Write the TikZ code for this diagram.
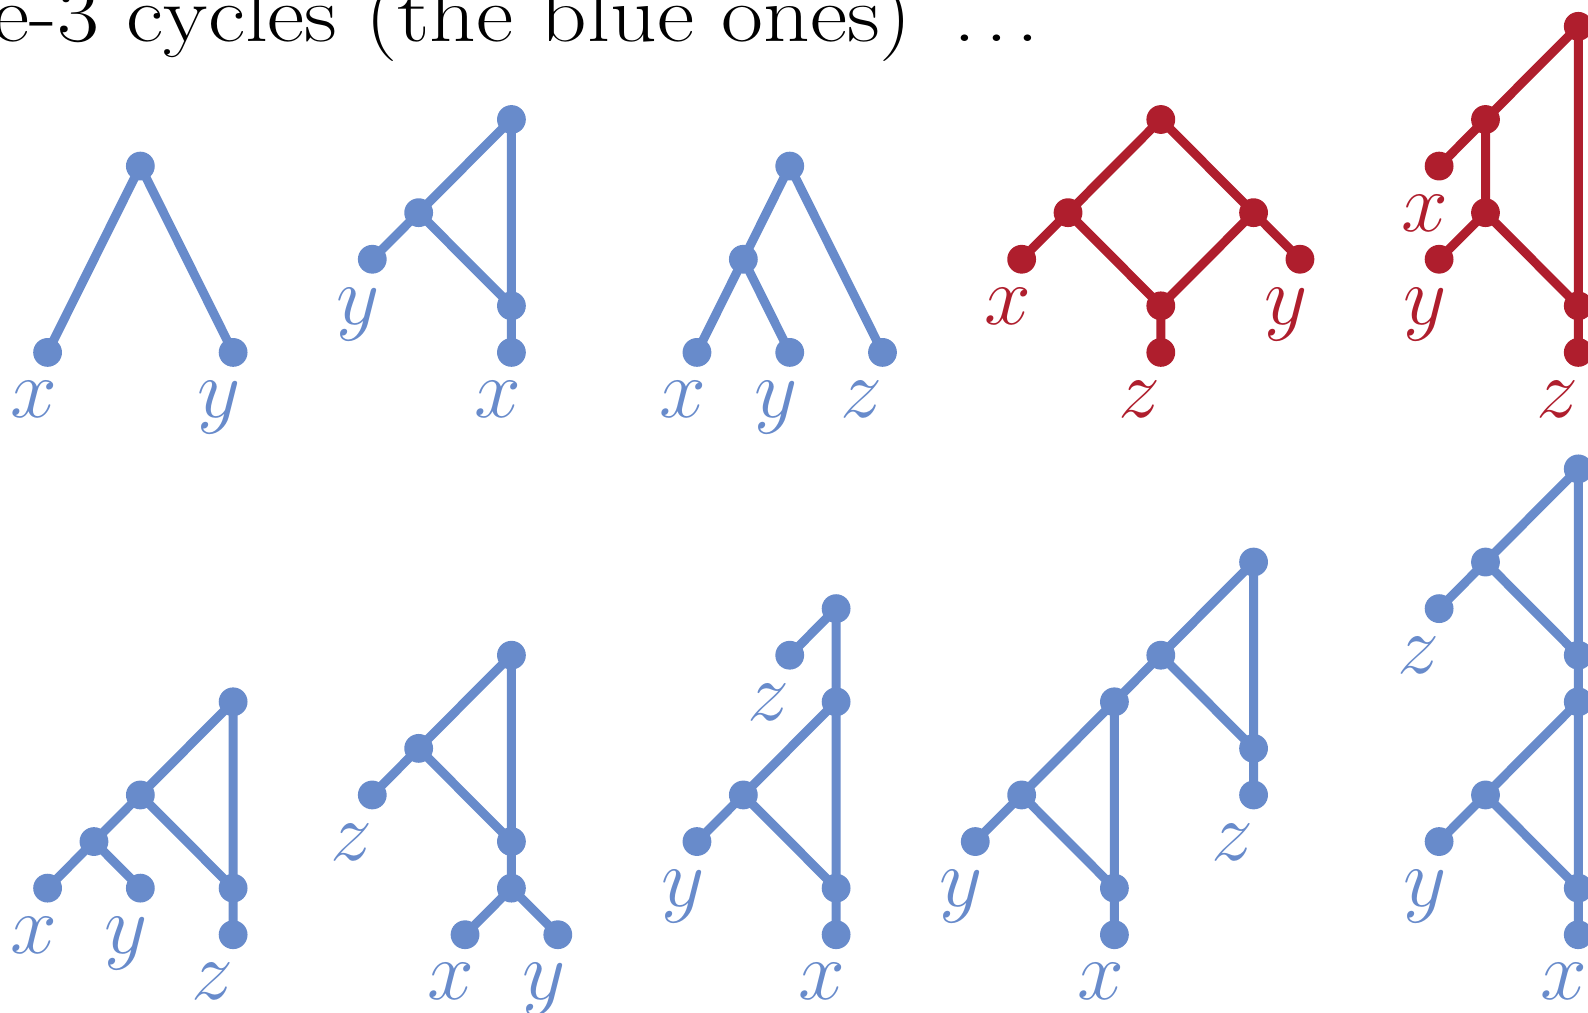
\RequirePackage{fix-cm}
\documentclass[tikz,border=0pt]{standalone}
\usepackage{tikz}
\usepackage{graphicx}
\usetikzlibrary{calc}
\definecolor{cycleblue}{RGB}{104,139,203}
\definecolor{cyclered}{RGB}{175,30,45}

\tikzset{
  vtx/.style={circle, fill, inner sep=0pt, minimum size=14.4pt, outer sep=-3pt},
  link/.style={line width=4.5pt},
  lab/.style={anchor=base, font=\fontsize{42}{46}\selectfont},
}

\begin{document}
\begin{tikzpicture}[x=23.19pt, y=-23.29pt]
    \useasboundingbox (-1.026,-0.565) rectangle (33.21,21.17);
    \clip (-1.026,-0.565) rectangle (33.21,21.17);

    % Title (cut at the edges)
    \node[anchor=base east, inner sep=0pt, font=\fontsize{40}{44}\selectfont] (title) at (21.4,0.315)
        {\scalebox{1.14}[1]{e-3 cycles (the blue ones)\hspace{0.45em}.\kern0.1em.\kern0.1em.}};

    % First row
    \begin{scope}[cycleblue]
    % x y
    \node[vtx] (a1) at (2,3) {};
    \node[vtx] (a1x) at (0,7) {};
    \node[vtx] (a1y) at (4,7) {};
    \draw[link] (a1x) -- (a1) -- (a1y);
    \node[lab] at ($(a1x)+(-0.3,1.4)$) {$x$};
    \node[lab] at ($(a1y)+(-0.3,1.4)$) {$y$};

    % y over x
    \node[vtx] (b1) at (10,2) {};
    \node[vtx] (b2) at (8,4) {};
    \node[vtx] (b3) at (10,6) {};
    \node[vtx] (b2y) at (7,5) {};
    \node[vtx] (b3x) at (10,7) {};
    \draw[link] (b1) -- (b2) -- (b3) -- (b1) (b2) -- (b2y) (b3) -- (b3x);
    \node[lab] at ($(b2y)+(-0.3,1.4)$) {$y$};
    \node[lab] at ($(b3x)+(-0.3,1.4)$) {$x$};

    % x y z
    \node[vtx] (c1) at (16,3) {};
    \node[vtx] (c2) at (15,5) {};
    \node[vtx] (c2x) at (14,7) {};
    \node[vtx] (c2y) at (16,7) {};
    \node[vtx] (c1z) at (18,7) {};
    \draw[link] (c1z) -- (c1) -- (c2) -- (c2x) (c2) -- (c2y);
    \node[lab] at ($(c2x)+(-0.3,1.4)$) {$x$};
    \node[lab] at ($(c2y)+(-0.3,1.4)$) {$y$};
    \node[lab] at ($(c1z)+(-0.45,1.4)$) {$z$};
    \end{scope}

    \begin{scope}[cyclered]
    % diamond
    \node[vtx] (d1) at (24,2) {};
    \node[vtx] (d2) at (22,4) {};
    \node[vtx] (d3) at (26,4) {};
    \node[vtx] (d4) at (24,6) {};
    \node[vtx] (d2x) at (21,5) {};
    \node[vtx] (d3y) at (27,5) {};
    \node[vtx] (d4z) at (24,7) {};
    \draw[link] (d1) -- (d2) -- (d4) -- (d3) -- (d1)
        (d2) -- (d2x) (d3) -- (d3y) (d4) -- (d4z);
    \node[lab] at ($(d2x)+(-0.3,1.4)$) {$x$};
    \node[lab] at ($(d3y)+(-0.3,1.4)$) {$y$};
    \node[lab] at ($(d4z)+(-0.45,1.4)$) {$z$};

    % ladder
    \node[vtx] (e1) at (33,0) {};
    \node[vtx] (e2) at (31,2) {};
    \node[vtx] (e3) at (31,4) {};
    \node[vtx] (e4) at (33,6) {};
    \node[vtx] (e2x) at (30,3) {};
    \node[vtx] (e3y) at (30,5) {};
    \node[vtx] (e4z) at (33,7) {};
    \draw[link] (e1) -- (e2) -- (e3) -- (e4) -- (e1)
        (e2) -- (e2x) (e3) -- (e3y) (e4) -- (e4z);
    \node[lab] at ($(e2x)+(-0.3,1.4)$) {$x$};
    \node[lab] at ($(e3y)+(-0.3,1.4)$) {$y$};
    \node[lab] at ($(e4z)+(-0.45,1.4)$) {$z$};
    \end{scope}

    % Second row
    \begin{scope}[cycleblue, shift={(0,9.5)}]
    % (x y) z
    \node[vtx] (f1) at (4,5) {};
    \node[vtx] (f2) at (2,7) {};
    \node[vtx] (f3) at (1,8) {};
    \node[vtx] (f4) at (4,9) {};
    \node[vtx] (f3x) at (0,9) {};
    \node[vtx] (f3y) at (2,9) {};
    \node[vtx] (f4z) at (4,10) {};
    \draw[link] (f1) -- (f2) -- (f4) -- (f1) (f2) -- (f3)
        (f3) -- (f3x) (f3) -- (f3y) (f4) -- (f4z);
    \node[lab] at ($(f3x)+(-0.3,1.4)$) {$x$};
    \node[lab] at ($(f3y)+(-0.3,1.4)$) {$y$};
    \node[lab] at ($(f4z)+(-0.45,1.4)$) {$z$};

    % z over (x y)
    \node[vtx] (g1) at (10,4) {};
    \node[vtx] (g2) at (8,6) {};
    \node[vtx] (g3) at (10,8) {};
    \node[vtx] (g4) at (10,9) {};
    \node[vtx] (g2z) at (7,7) {};
    \node[vtx] (g4x) at (9,10) {};
    \node[vtx] (g4y) at (11,10) {};
    \draw[link] (g1) -- (g2) -- (g3) -- (g1) (g2) -- (g2z)
        (g3) -- (g4) (g4) -- (g4x) (g4) -- (g4y);
    \node[lab] at ($(g2z)+(-0.45,1.4)$) {$z$};
    \node[lab] at ($(g4x)+(-0.3,1.4)$) {$x$};
    \node[lab] at ($(g4y)+(-0.3,1.4)$) {$y$};

    % z then y over x
    \node[vtx] (h1) at (17,3) {};
    \node[vtx] (h2) at (17,5) {};
    \node[vtx] (h3) at (15,7) {};
    \node[vtx] (h4) at (17,9) {};
    \node[vtx] (h1z) at (16,4) {};
    \node[vtx] (h3y) at (14,8) {};
    \node[vtx] (h4x) at (17,10) {};
    \draw[link] (h1) -- (h1z) (h1) -- (h2) -- (h3) -- (h4) -- (h2)
        (h3) -- (h3y) (h4) -- (h4x);
    \node[lab] at ($(h1z)+(-0.45,1.4)$) {$z$};
    \node[lab] at ($(h3y)+(-0.3,1.4)$) {$y$};
    \node[lab] at ($(h4x)+(-0.3,1.4)$) {$x$};

    % nested
    \node[vtx] (k1) at (26,2) {};
    \node[vtx] (k2) at (24,4) {};
    \node[vtx] (k3) at (23,5) {};
    \node[vtx] (k4) at (21,7) {};
    \node[vtx] (k5) at (23,9) {};
    \node[vtx] (k6) at (26,6) {};
    \node[vtx] (k4y) at (20,8) {};
    \node[vtx] (k5x) at (23,10) {};
    \node[vtx] (k6z) at (26,7) {};
    \draw[link] (k1) -- (k2) -- (k3) -- (k4) -- (k5) -- (k3)
        (k2) -- (k6) -- (k1) (k4) -- (k4y) (k5) -- (k5x) (k6) -- (k6z);
    \node[lab] at ($(k4y)+(-0.3,1.4)$) {$y$};
    \node[lab] at ($(k5x)+(-0.3,1.4)$) {$x$};
    \node[lab] at ($(k6z)+(-0.45,1.4)$) {$z$};

    % stacked
    \node[vtx] (m1) at (33,0) {};
    \node[vtx] (m2) at (31,2) {};
    \node[vtx] (m3) at (33,4) {};
    \node[vtx] (m4) at (33,5) {};
    \node[vtx] (m5) at (31,7) {};
    \node[vtx] (m6) at (33,9) {};
    \node[vtx] (m2z) at (30,3) {};
    \node[vtx] (m5y) at (30,8) {};
    \node[vtx] (m6x) at (33,10) {};
    \draw[link] (m1) -- (m2) -- (m3) -- (m1) (m3) -- (m4)
        (m4) -- (m5) -- (m6) -- (m4) (m2) -- (m2z) (m5) -- (m5y) (m6) -- (m6x);
    \node[lab] at ($(m2z)+(-0.45,1.4)$) {$z$};
    \node[lab] at ($(m5y)+(-0.3,1.4)$) {$y$};
    \node[lab] at ($(m6x)+(-0.3,1.4)$) {$x$};
    \end{scope}
\end{tikzpicture}
\end{document}
